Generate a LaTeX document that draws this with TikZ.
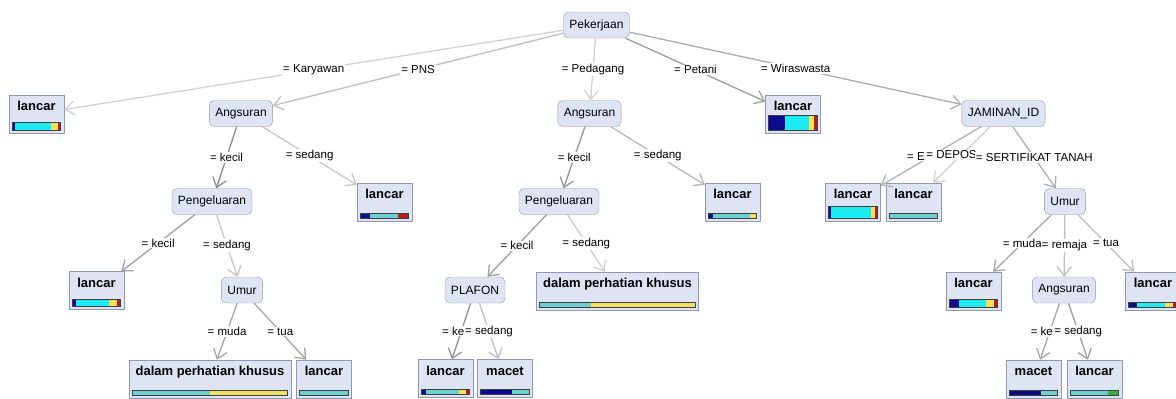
\documentclass[tikz,border=0pt]{standalone}
\usepackage{fontspec}
\setmainfont{Liberation Sans}
\usetikzlibrary{arrows.meta}
\usetikzlibrary{calc}

\definecolor{nodefill}{HTML}{DFE4F4}
\definecolor{nodeline}{HTML}{9098B0}
\definecolor{cnavy}{HTML}{0A0A8A}
\definecolor{ccyan}{HTML}{1EEAF2}
\definecolor{cteal}{HTML}{6CCFD2}
\definecolor{cyellow}{HTML}{F2E060}
\definecolor{cred}{HTML}{B81E1E}
\definecolor{cgreen}{HTML}{3CB043}

% class bar at the foot of a leaf: node, height, colour/from/to
\newcommand{\classbar}[3]{%
  \path let \p1=(#1.south west), \p2=(#1.south east) in
    (\x1+3.5pt,\y1+3pt) coordinate (#1-lo)
    (\x2-3.5pt,\y1+3pt+#2pt) coordinate (#1-hi);
  \foreach \cc/\ca/\cb in {#3}
    \fill[\cc] ($(#1-lo)!\ca!(#1-lo -| #1-hi)$) rectangle ($(#1-lo |- #1-hi)!\cb!(#1-hi)$);
  \draw[black!75,line width=0.9pt] (#1-lo) rectangle (#1-hi);
}

\begin{document}
\begin{tikzpicture}[x=1pt,y=-1pt,
  split/.style={draw=nodeline,fill=nodefill,rounded corners=5pt,minimum height=26pt,inner xsep=6pt,font=\fontsize{12}{14}\selectfont},
  leaf/.style={draw=nodeline,fill=nodefill,minimum width=55pt,minimum height=38pt,inner xsep=6.5pt,inner ysep=2pt,text height=10pt,text depth=17pt,font=\bfseries\fontsize{13}{15}\selectfont},
  branch/.style={draw=black!#1,line width=1.3pt,-{Straight Barb[length=9pt,width=14pt]}},
  elabel/.style={fill=white,inner sep=1pt,font=\fontsize{11.5}{13}\selectfont}]
  \useasboundingbox (0,0) rectangle (1176,399);

  %root
  \node[split] (root) at (596.5,25) {Pekerjaan};

  %first level
  \node[leaf] (k1) at (36.5,114) {lancar};
  \node[split] (ang1) at (241,113.5) {Angsuran};
  \node[split] (ang2) at (589.5,113.5) {Angsuran};
  \node[leaf] (pet) at (793,114) {lancar};
  \node[split] (jam) at (1003.5,113.5) {JAMINAN\_ID};

  %second level
  \node[split] (peng1) at (212,201.5) {Pengeluaran};
  \node[leaf] (ls1) at (384.5,202) {lancar};
  \node[split] (peng2) at (559,201.5) {Pengeluaran};
  \node[leaf] (ls2) at (732.5,202) {lancar};
  \node[leaf] (lE) at (853,202) {lancar};
  \node[leaf] (lD) at (913.5,202) {lancar};
  \node[split] (umur2) at (1065,201.5) {Umur};

  %third level
  \node[leaf] (lp1) at (96.5,290.5) {lancar};
  \node[split] (umur1) at (242,290) {Umur};
  \node[split] (plafon) at (475,290) {PLAFON};
  \node[leaf] (dpk2) at (617.5,291) {dalam perhatian khusus};
  \node[leaf] (lmuda) at (973.5,291) {lancar};
  \node[split] (ang3) at (1064,290) {Angsuran};
  \node[leaf] (ltua2) at (1153,291) {lancar};

  %fourth level
  \node[leaf] (dpk1) at (210,379) {dalam perhatian khusus};
  \node[leaf] (lt1) at (324,379) {lancar};
  \node[leaf] (lplaf) at (445.5,378.5) {lancar};
  \node[leaf] (mplaf) at (505,378.5) {macet};
  \node[leaf] (m3) at (1033.5,379) {macet};
  \node[leaf] (l3) at (1094.5,379) {lancar};

  %bars
  \classbar{k1}{8}{cnavy/0/0.06, ccyan/0.06/0.79, cyellow/0.79/0.94, cred/0.94/1}
  \classbar{pet}{15}{cnavy/0/0.34, ccyan/0.34/0.84, cyellow/0.84/0.93, cred/0.93/1}
  \classbar{ls1}{5}{cnavy/0/0.21, cteal/0.21/0.77, cred/0.77/1}
  \classbar{ls2}{5}{cnavy/0/0.1, cteal/0.1/0.86, cyellow/0.86/1}
  \classbar{lE}{12}{cnavy/0/0.04, ccyan/0.04/0.88, cyellow/0.88/0.96, cred/0.96/1}
  \classbar{lD}{5}{cteal/0/1}
  \classbar{lp1}{7}{cnavy/0/0.07, ccyan/0.07/0.76, cyellow/0.76/0.93, cred/0.93/1}
  \classbar{dpk2}{5}{cteal/0/0.33, cyellow/0.33/1}
  \classbar{lmuda}{8}{cnavy/0/0.19, ccyan/0.19/0.75, cyellow/0.75/0.93, cred/0.93/1}
  \classbar{ltua2}{5}{cnavy/0/0.17, ccyan/0.17/0.74, cyellow/0.74/0.92, cred/0.92/1}
  \classbar{dpk1}{5}{cteal/0/0.5, cyellow/0.5/1}
  \classbar{lt1}{5}{cteal/0/1}
  \classbar{lplaf}{5}{cnavy/0/0.09, cteal/0.09/0.77, cyellow/0.77/0.93, cred/0.93/1}
  \classbar{mplaf}{5}{cnavy/0/0.65, cteal/0.65/1}
  \classbar{m3}{5}{cnavy/0/0.65, cteal/0.65/1}
  \classbar{l3}{5}{cteal/0/0.77, cgreen/0.77/1}

  %edges from the root
  \draw[branch=18] (root) -- (k1) node[elabel,midway] {= Karyawan};
  \draw[branch=25] (root) -- (ang1) node[elabel,midway] {= PNS};
  \draw[branch=18] (root) -- (ang2) node[elabel,midway] {= Pedagang};
  \draw[branch=38] (root) -- (pet) node[elabel,midway] {= Petani};
  \draw[branch=32] (root) -- (jam) node[elabel,midway] {= Wiraswasta};

  %left subtree
  \draw[branch=45] (ang1) -- (peng1) node[elabel,midway] {= kecil};
  \draw[branch=22] (ang1) -- (ls1) node[elabel,midway] {= sedang};
  \draw[branch=38] (peng1) -- (lp1) node[elabel,midway] {= kecil};
  \draw[branch=22] (peng1) -- (umur1) node[elabel,midway] {= sedang};
  \draw[branch=35] (umur1) -- (dpk1) node[elabel,midway] {= muda};
  \draw[branch=35] (umur1) -- (lt1) node[elabel,midway] {= tua};

  %middle subtree
  \draw[branch=42] (ang2) -- (peng2) node[elabel,midway] {= kecil};
  \draw[branch=28] (ang2) -- (ls2) node[elabel,midway] {= sedang};
  \draw[branch=38] (peng2) -- (plafon) node[elabel,midway] {= kecil};
  \draw[branch=20] (peng2) -- (dpk2) node[elabel,midway] {= sedang};
  \draw[branch=42] (plafon) -- (lplaf) node[elabel,midway,xshift=-8pt] {= ke};
  \draw[branch=25] (plafon) -- (mplaf) node[elabel,midway] {= sedang};

  %right subtree
  \draw[branch=30] (jam) -- (lE) node[elabel,midway,xshift=-15pt] {= E};
  \draw[branch=18] (jam) -- (lD) node[elabel,midway,xshift=-10pt] {= DEPOS};
  \draw[branch=32] (jam) -- (umur2) node[elabel,midway] {= SERTIFIKAT TANAH};
  \draw[branch=35] (umur2) -- (lmuda) node[elabel,midway] {= muda};
  \draw[branch=25] (umur2) -- (ang3) node[elabel,midway] {= remaja};
  \draw[branch=25] (umur2) -- (ltua2) node[elabel,midway] {= tua};
  \draw[branch=35] (ang3) -- (m3) node[elabel,midway,xshift=-8pt] {= ke};
  \draw[branch=38] (ang3) -- (l3) node[elabel,midway] {= sedang};
\end{tikzpicture}
\end{document}
